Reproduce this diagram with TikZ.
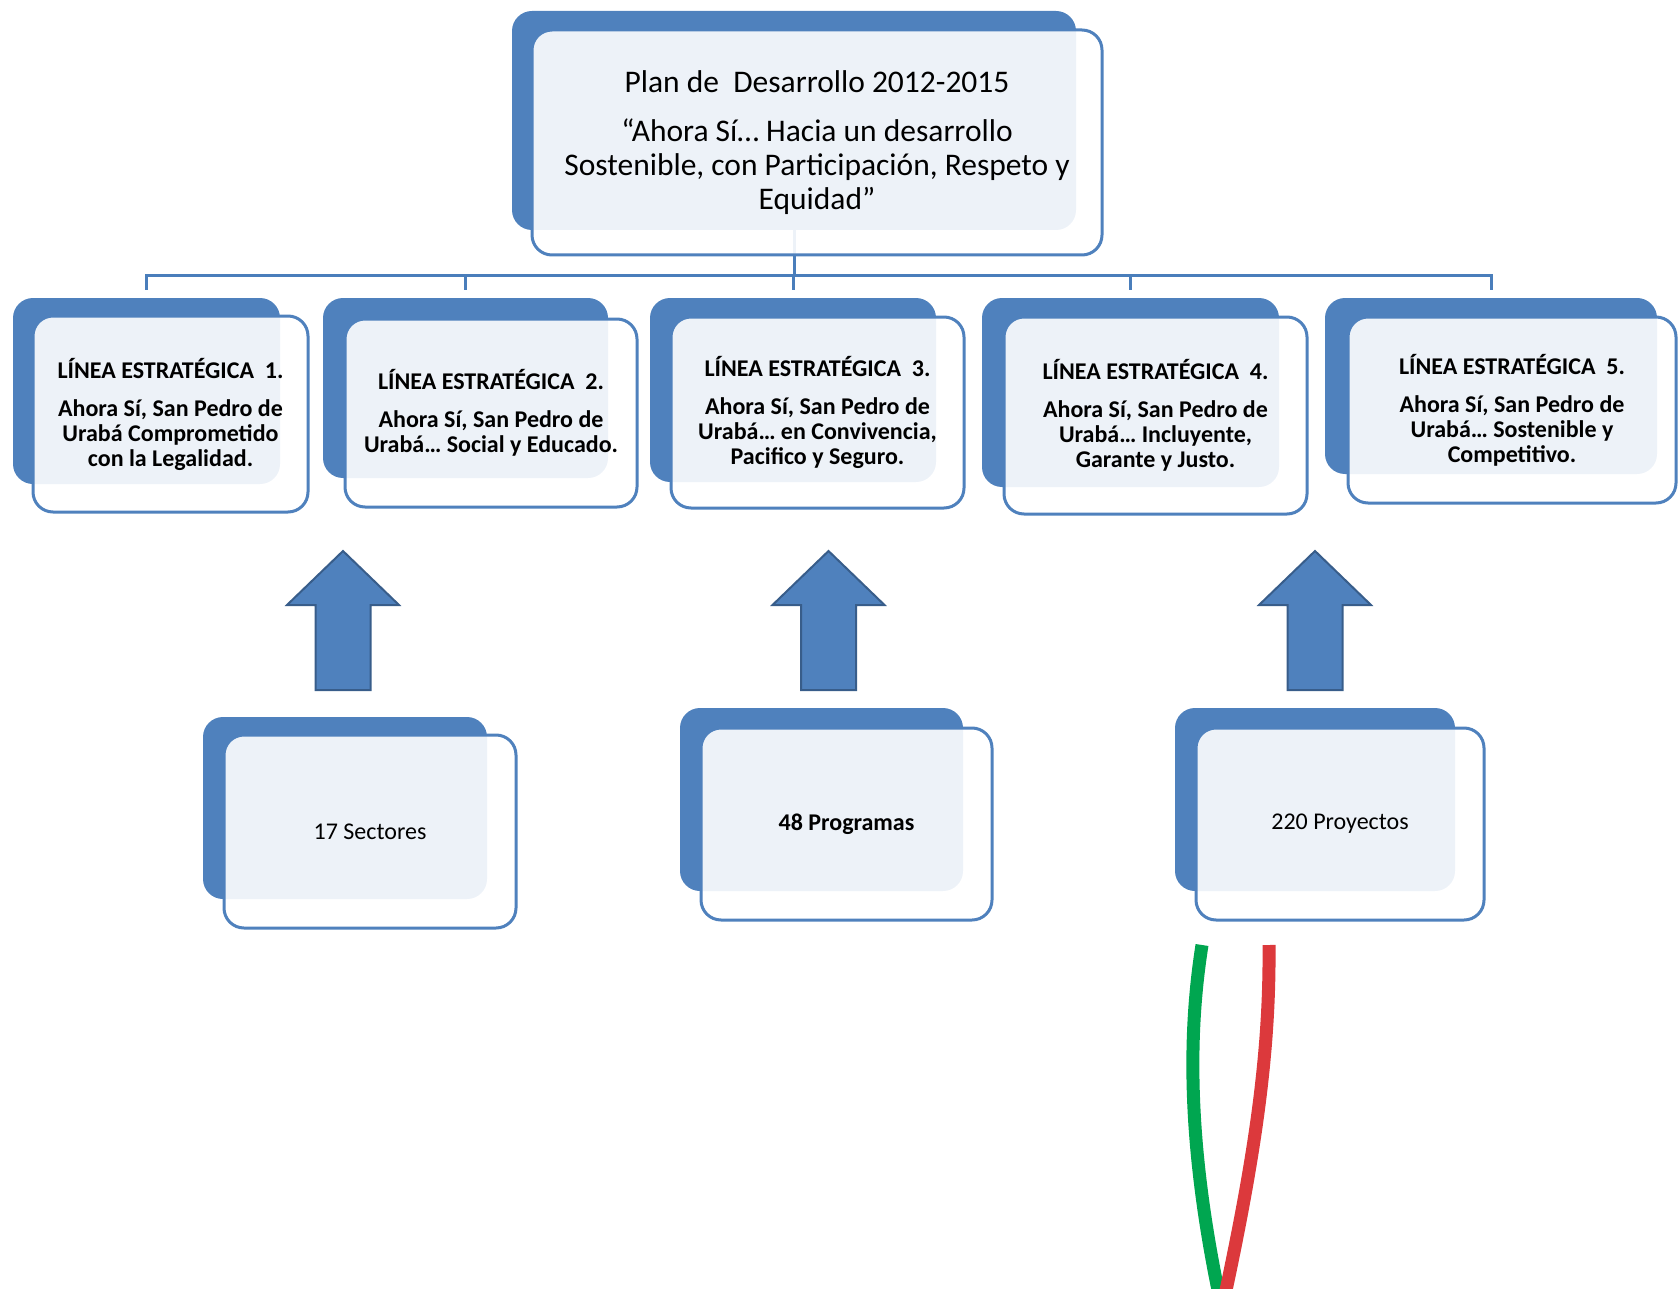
\documentclass[tikz,border=0pt]{standalone}
\usepackage{fontspec}
\setmainfont{Carlito}
\definecolor{blueA}{RGB}{79,129,189}
\definecolor{blueB}{RGB}{79,129,189}
\definecolor{blueC}{RGB}{74,126,187}
\definecolor{blueD}{RGB}{56,93,138}
\definecolor{greenL}{RGB}{0,166,80}
\definecolor{redL}{RGB}{220,57,60}
\tikzset{
  backbox/.style={draw=none, fill=blueA, rounded corners=20pt, inner sep=0pt},
  frontbox/.style={draw=blueB, line width=3pt, fill=white, fill opacity=0.9, text opacity=1,
    rounded corners=20pt, inner sep=0pt, align=center, text=black},
  conn/.style={draw=blueC, line width=3pt},
  uparrowshape/.style={fill=blueA, draw=blueD, line width=2pt, line join=miter},
  smalltxt/.style={font=\fontsize{24}{25}\selectfont},
  boldtxt/.style={font=\fontsize{24}{25}\selectfont\bfseries},
  uparr/.pic={\draw[uparrowshape] (-27.5,0) -- (-27.5,-85) -- (-56,-85) -- (0,-139) -- (56,-85) -- (27.5,-85) -- (27.5,0) -- cycle;},
}
\begin{document}
\begin{tikzpicture}[x=1pt,y=-1pt]
\useasboundingbox (0,0) rectangle (1678,1289);
% top box
\node[backbox, minimum width=564pt, minimum height=219pt] (topb) at (794,120.5) {};
\draw[conn] (topb.south) -- ++(0,45) coordinate (hub);
% level 2 back boxes
\node[backbox, minimum width=267pt, minimum height=186pt] (l1b) at (146.5,391) {};
\node[backbox, minimum width=285pt, minimum height=180pt] (l2b) at (465.5,388) {};
\node[backbox, minimum width=286pt, minimum height=184pt] (l3b) at (793,390) {};
\node[backbox, minimum width=297pt, minimum height=189pt] (l4b) at (1130.5,392.5) {};
\node[backbox, minimum width=332pt, minimum height=176pt] (l5b) at (1491,386) {};
\foreach \n in {l1b,l2b,l3b,l4b,l5b}{
  \draw[conn, shorten <=8pt] (\n.north) |- (hub);
}
\node[frontbox, minimum width=570pt, minimum height=225pt, font=\fontsize{31.5}{34}\selectfont] (topf) at (817,142.5)
  {Plan de\ \ Desarrollo 2012-2015\\[15pt]“Ahora Sí… Hacia un desarrollo\\Sostenible, con Participación, Respeto y\\Equidad”};
\node[frontbox, boldtxt, minimum width=275pt, minimum height=196pt] (l1f) at (170.5,414)
  {LÍNEA ESTRATÉGICA\ \ 1.\\[13pt]Ahora Sí, San Pedro de\\Urabá Comprometido\\con la Legalidad.};
\node[frontbox, boldtxt, minimum width=292pt, minimum height=188pt] (l2f) at (491,413)
  {LÍNEA ESTRATÉGICA\ \ 2.\\[13pt]Ahora Sí, San Pedro de\\Urabá… Social y Educado.};
\node[frontbox, boldtxt, minimum width=293pt, minimum height=191pt] (l3f) at (817.5,412.5)
  {LÍNEA ESTRATÉGICA\ \ 3.\\[13pt]Ahora Sí, San Pedro de\\Urabá… en Convivencia,\\Pacifico y Seguro.};
\node[frontbox, boldtxt, minimum width=303pt, minimum height=197pt] (l4f) at (1155.5,415.5)
  {LÍNEA ESTRATÉGICA\ \ 4.\\[13pt]Ahora Sí, San Pedro de\\Urabá… Incluyente,\\Garante y Justo.};
\node[frontbox, boldtxt, minimum width=328pt, minimum height=186pt] (l5f) at (1512,410)
  {LÍNEA ESTRATÉGICA\ \ 5.\\[13pt]Ahora Sí, San Pedro de\\Urabá… Sostenible y\\Competitivo.};
% arrows
\pic at (343,690) {uparr};
\pic at (828.5,690) {uparr};
\pic at (1315,690) {uparr};
% bottom boxes
\node[backbox, minimum width=284pt, minimum height=182pt] (s1b) at (345,808) {};
\node[backbox, minimum width=283pt, minimum height=183pt] (s2b) at (821.5,799.5) {};
\node[backbox, minimum width=280pt, minimum height=183pt] (s3b) at (1315,799.5) {};
\node[frontbox, smalltxt, minimum width=292pt, minimum height=193pt] (s1f) at (370,831.5) {17 Sectores};
\node[frontbox, boldtxt, minimum width=291pt, minimum height=192pt] (s2f) at (846.5,824) {48 Programas};
\node[frontbox, smalltxt, minimum width=288pt, minimum height=192pt] (s3f) at (1340,824) {220 Proyectos};
% coloured strokes
\coordinate (g0) at (1202,945);
\coordinate (g1) at (1219,1295);
\coordinate (r0) at (1269,945);
\coordinate (r1) at (1225,1295);
\draw[greenL, line width=13pt] (g0) .. controls (1187,1040) and (1189,1150) .. (g1);
\draw[redL, line width=13pt] (r0) .. controls (1270,1050) and (1256,1150) .. (r1);
\end{tikzpicture}
\end{document}
